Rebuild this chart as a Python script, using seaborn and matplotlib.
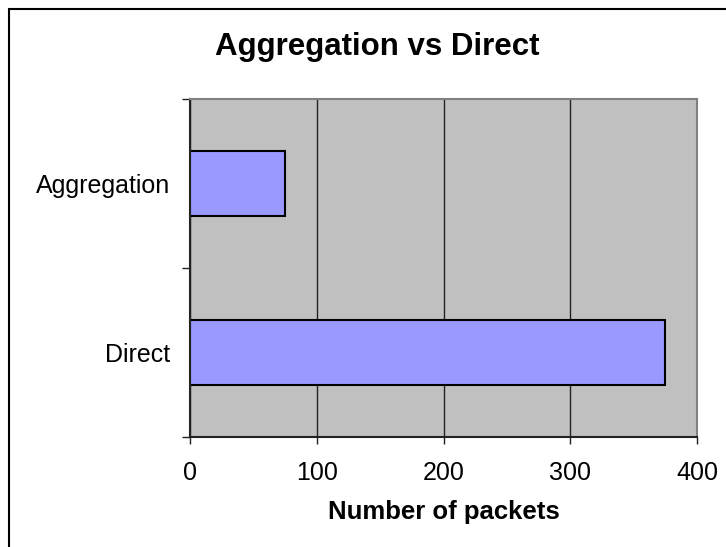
import matplotlib
matplotlib.use("Agg")
import matplotlib.pyplot as plt
from matplotlib.patches import Rectangle
import seaborn as sns
import pandas as pd

# Chart data
categories = ["Aggregation", "Direct"]
packets = [75, 375]
x_ticks = [0, 100, 200, 300, 400]
title = "Aggregation vs Direct"
x_label = "Number of packets"

sns.set_theme(style="white")
plt.rcParams["font.family"] = ["Liberation Sans", "DejaVu Sans"]
plt.rcParams["text.color"] = "black"
plt.rcParams["xtick.color"] = "black"
plt.rcParams["ytick.color"] = "black"
plt.rcParams["axes.labelcolor"] = "black"

df = pd.DataFrame({"method": categories, "packets": packets})

W, H = 726, 547
fig = plt.figure(figsize=(W / 100, H / 100), dpi=100)
fig.patch.set_facecolor("white")

# plot area in pixel coordinates
left, right, top, bottom = 190, 697, 99, 437
ax = fig.add_axes([left / W, 1 - bottom / H, (right - left) / W, (bottom - top) / H])
ax.set_facecolor("#C0C0C0")

sns.barplot(data=df, y="method", x="packets", orient="h", color="#9999FF",
            saturation=1, width=0.39, edgecolor="black", linewidth=1.5, ax=ax)

ax.set_xlim(x_ticks[0], x_ticks[-1])
ax.set_ylim(len(categories) - 0.5, -0.5)
ax.set_axisbelow(True)
ax.xaxis.grid(True, color="#222222", linewidth=1.0)
ax.yaxis.grid(False)

ax.set_xticks(x_ticks)
ax.set_xticklabels([str(t) for t in x_ticks], fontsize=18)
ax.set_yticks(range(len(categories)))
ax.set_yticklabels(categories, fontsize=18)
ax.set_yticks([i - 0.5 for i in range(len(categories) + 1)], minor=True)
ax.tick_params(axis="y", which="major", length=0, pad=14)
ax.tick_params(axis="y", which="minor", length=6, width=1, color="#222222", direction="out", left=True)
ax.tick_params(axis="x", which="major", length=5, width=1, color="#222222", direction="out", bottom=True, pad=12)

for side in ("left", "bottom"):
    ax.spines[side].set_color("#222222")
    ax.spines[side].set_linewidth(1.5)
for side in ("top", "right"):
    ax.spines[side].set_color("#808080")
    ax.spines[side].set_linewidth(1.5)

ax.set_ylabel("")
ax.set_xlabel(x_label, fontsize=18.5, fontweight="bold", labelpad=11)

fig.text(377 / W, 1 - 55 / H, title, ha="center", va="baseline",
         fontsize=22.5, fontweight="bold")

# chart frame
fig.patches.append(Rectangle((9 / W, -0.5), 2, (1 - 9 / H) + 0.5,
                             transform=fig.transFigure, fill=False,
                             edgecolor="black", linewidth=1.5))

fig.savefig("out.png", dpi=100)
